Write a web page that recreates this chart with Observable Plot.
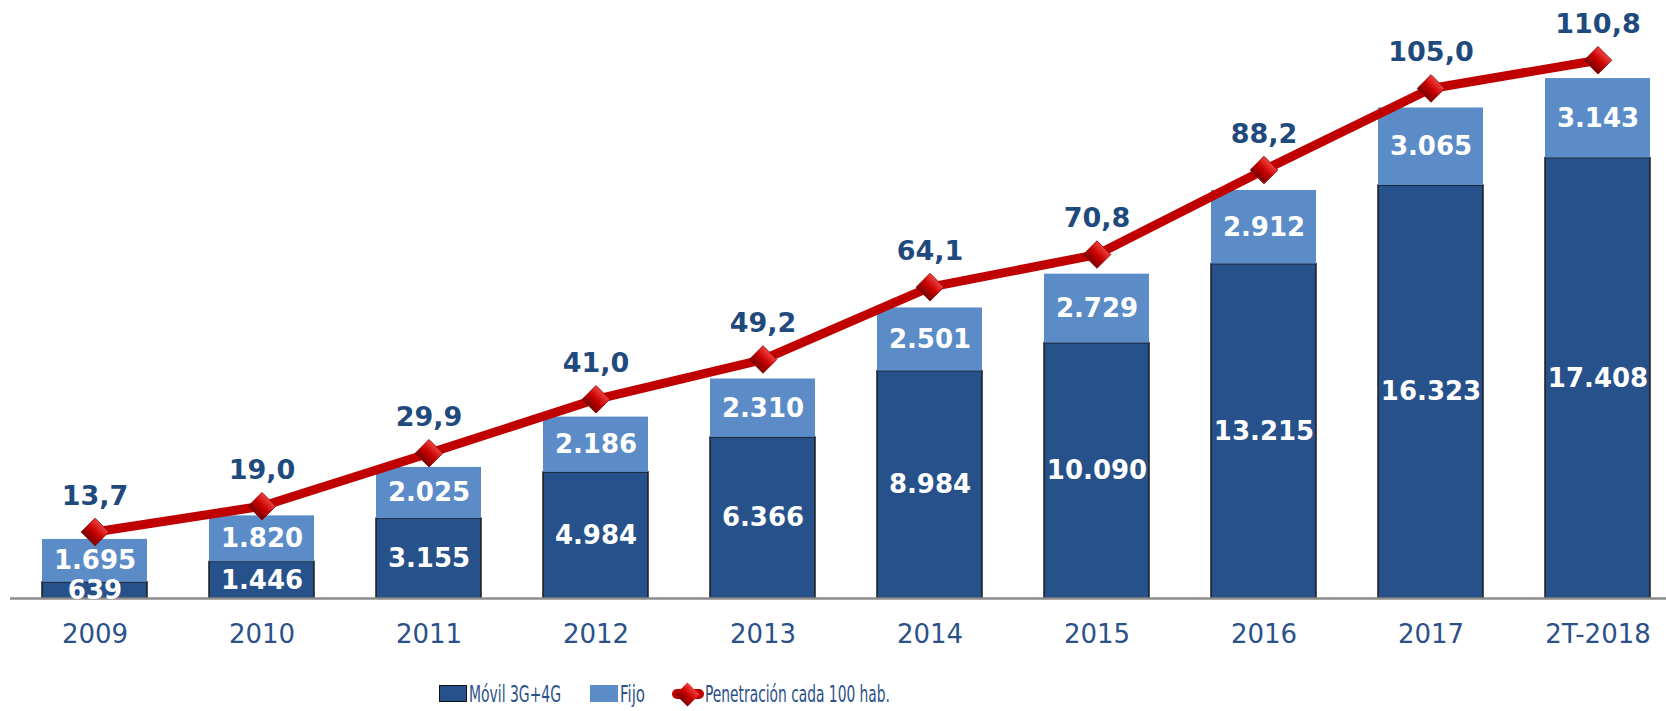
<!DOCTYPE html>
<html>
<head>
<meta charset="utf-8">
<script src="https://cdn.jsdelivr.net/npm/d3@7"></script>
<script src="https://cdn.jsdelivr.net/npm/@observablehq/plot@0.6"></script>
<style>
  html, body { margin: 0; padding: 0; background: #fff; }
  #wrap { position: relative; width: 1666px; height: 711px; overflow: hidden; font-family: "DejaVu Sans", Verdana, sans-serif; }
  .lg { position: absolute; }
  .lgt { position: absolute; white-space: nowrap; font-size: 23px; color: #2b5189; transform-origin: 0 50%; line-height: 26px; }
</style>
</head>
<body>
<div id="wrap"></div>
<script>
const years = ["2009","2010","2011","2012","2013","2014","2015","2016","2017","2T-2018"];
const movil = [639, 1446, 3155, 4984, 6366, 8984, 10090, 13215, 16323, 17408];
const fijo = [1695, 1820, 2025, 2186, 2310, 2501, 2729, 2912, 3065, 3143];
const penetracion = [13.7, 19.0, 29.9, 41.0, 49.2, 64.1, 70.8, 88.2, 105.0, 110.8];
const seriesNames = ["Móvil 3G+4G", "Fijo", "Penetración cada 100 hab."];

const colors = { dark: "#27518a", light: "#5b8cc8", red: "#c00000", text: "#1f4a7e" };
const penFactor = 192; // dual-axis scaling of penetration onto bar axis

const rows = [];
years.forEach((y, i) => {
  rows.push({ year: y, serie: seriesNames[0], value: movil[i] });
  rows.push({ year: y, serie: seriesNames[1], value: fijo[i] });
});
const pen = years.map((y, i) => ({ year: y, value: penetracion[i] }));

const fmtInt = v => d3.format(",")(v).replace(/,/g, ".");
const fmtDec = v => v.toFixed(1).replace(".", ",");

const H = 675, base = 598;
const chart = Plot.plot({
  width: 1666,
  height: H,
  marginTop: 0,
  marginBottom: H - base,
  marginLeft: 10,
  marginRight: 0,
  style: { fontFamily: "DejaVu Sans, Verdana, sans-serif", background: "transparent" },
  x: { domain: years, range: [11, 1681], paddingInner: 0.371, paddingOuter: 0.1855, label: null },
  y: { domain: [0, 598 / 0.0253], axis: null },
  color: { domain: seriesNames.slice(0, 2), range: [colors.dark, colors.light] },
  marks: [
    Plot.barY(rows, Plot.stackY({
      x: "year", y: "value", z: "serie", fill: "serie",
      stroke: d => d.serie === seriesNames[0] ? "#1b1b1b" : "none",
      strokeWidth: 1.5, inset: 0
    })),
    Plot.ruleY([0], { stroke: "#8c8c8c", strokeWidth: 2.5 }),
    Plot.text(rows, Plot.stackY({
      x: "year", y: "value", z: "serie",
      text: d => fmtInt(d.value),
      fill: "white", fontWeight: "bold", fontSize: 26, lineAnchor: "middle"
    })),
    Plot.line(pen, { x: "year", y: d => d.value * penFactor, stroke: colors.red, strokeWidth: 9, strokeLinejoin: "round", curve: "linear" }),
    Plot.dot(pen, { x: "year", y: d => d.value * penFactor, symbol: "square", rotate: 45, r: 11, fill: "url(#dgrad)", stroke: "#8a0000", strokeWidth: 0.8 }),
    Plot.text(pen, { x: "year", y: d => d.value * penFactor, text: d => fmtDec(d.value), dy: -36, fill: colors.text, fontWeight: "bold", fontSize: 27, lineAnchor: "middle" }),
    Plot.axisX({ tickSize: 0, tickPadding: 26, fontSize: 26, color: "#2b5189", label: null })
  ]
});

// gradient for diamond markers
const ns = "http://www.w3.org/2000/svg";
const defs = document.createElementNS(ns, "defs");
defs.innerHTML = `<linearGradient id="dgrad" x1="0" y1="0" x2="0" y2="1">
  <stop offset="0" stop-color="#f04040"/><stop offset="0.5" stop-color="#c80000"/><stop offset="1" stop-color="#7a0000"/></linearGradient>`;
chart.insertBefore(defs, chart.firstChild);

const wrap = document.getElementById("wrap");
chart.style.position = "absolute";
chart.style.left = "0px";
chart.style.top = "0px";
wrap.appendChild(chart);

// legend (below the SVG)
function box(x, y, w, h, css) {
  const d = document.createElement("div");
  d.className = "lg";
  Object.assign(d.style, { left: x + "px", top: y + "px", width: w + "px", height: h + "px" }, css);
  wrap.appendChild(d);
  return d;
}
function label(text, x, cy, targetW) {
  const s = document.createElement("span");
  s.className = "lgt";
  s.textContent = text;
  s.style.left = x + "px";
  s.style.top = (cy - 13) + "px";
  wrap.appendChild(s);
  const w = s.getBoundingClientRect().width;
  s.style.transform = `scaleX(${targetW / w})`;
}
const ly = 694;
box(439, ly - 9, 26, 15, { background: colors.dark, border: "1px solid #111" });
label(seriesNames[0], 469, ly, 92);
box(590, ly - 9, 28, 17, { background: colors.light });
label(seriesNames[1], 620, ly, 25);
box(672, ly - 5, 32, 10, { background: colors.red, borderRadius: "5px" });
box(679, ly - 8, 17, 17, { background: "linear-gradient(180deg,#f04040,#c80000 50%,#7a0000)", transform: "rotate(45deg)" });
label(seriesNames[2], 705, ly, 185);
</script>
</body>
</html>
